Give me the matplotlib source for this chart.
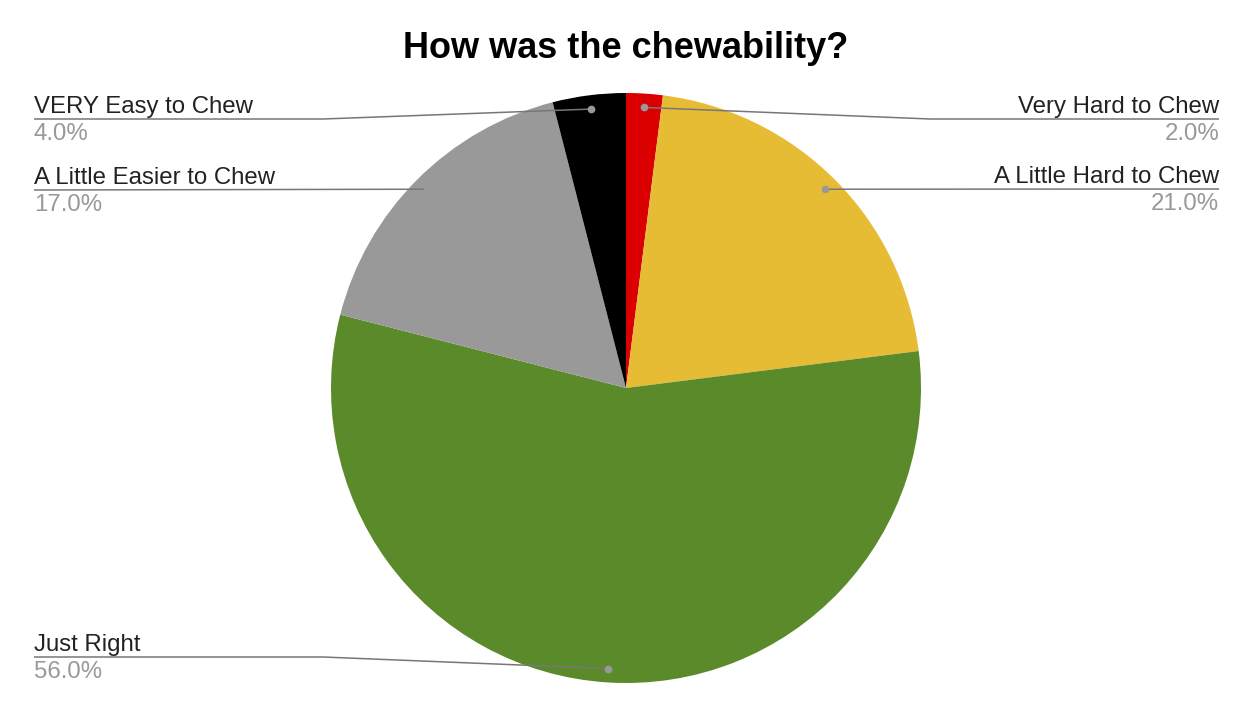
import numpy as np
import matplotlib.pyplot as plt

plt.rcParams['font.family'] = ['Liberation Sans', 'DejaVu Sans']

categories = ["Very Hard to Chew", "A Little Hard to Chew", "Just Right",
              "A Little Easier to Chew", "VERY Easy to Chew"]
values = [2.0, 21.0, 56.0, 17.0, 4.0]
colors = ["#db0000", "#e6bc34", "#5b8a2b", "#999999", "#000000"]

# layout (pixel coords, y measured from the top)
W, H = 1252, 718
cx, cy, R = 626, 388, 295
label_y = [119, 189, 657, 190, 119]
left_x, right_x = 34, 1219

fig = plt.figure(figsize=(W / 100, H / 100), dpi=100)
ax = fig.add_axes([0, 0, 1, 1])

wedges, _ = ax.pie(values, colors=colors, startangle=90, counterclock=False,
                   center=(cx, H - cy), radius=R,
                   wedgeprops=dict(linewidth=0))
# pie() resets the limits, so set them afterwards
ax.set_xlim(0, W)
ax.set_ylim(0, H)
ax.set_aspect('equal')
ax.axis('off')

fig.text(0.5, 1 - 49 / H, "How was the chewability?", ha='center', va='center',
         fontsize=26, fontweight='bold', color='#000000')

for w, name, val, ly in zip(wedges, categories, values, label_y):
    ang = np.deg2rad((w.theta1 + w.theta2) / 2)
    dx = cx + 0.953 * R * np.cos(ang)
    dy = (H - cy) + 0.953 * R * np.sin(ang)
    y = H - ly
    right = np.cos(ang) > 0
    tx = right_x if right else left_x
    if abs(dy - y) > 2:
        ex = tx - 289 if right else tx + 289
        xs, ys = [dx, ex, tx], [dy, y, y]
    else:
        xs, ys = [dx, tx], [dy, y]
    ax.plot(xs, ys, color='#777777', lw=1.1, zorder=3, solid_capstyle='butt')
    ax.plot(dx, dy, 'o', color='#999999', ms=4.5, zorder=4)
    ha = 'right' if right else 'left'
    ax.text(tx, y + 6, name, ha=ha, va='baseline', fontsize=17.3, color='#222222')
    ax.text(tx, y - 21, f"{val:.1f}%", ha=ha, va='baseline', fontsize=17.3, color='#999999')

fig.savefig("out.png", dpi=100, facecolor='white')
